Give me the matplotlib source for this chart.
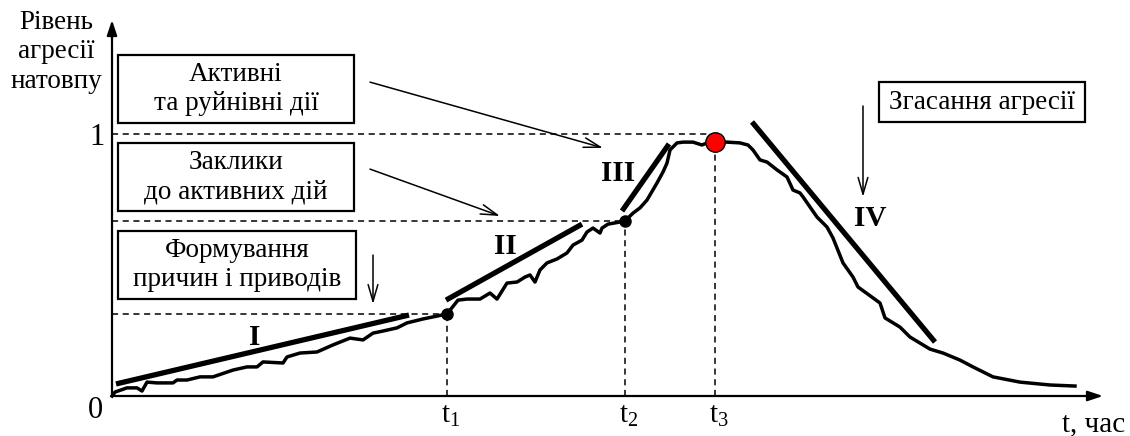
import matplotlib
matplotlib.use("Agg")
import matplotlib.pyplot as plt
from matplotlib.patches import Rectangle

plt.rcParams['font.family'] = ['Liberation Serif', 'DejaVu Serif']
plt.rcParams['mathtext.fontset'] = 'custom'
plt.rcParams['mathtext.rm'] = 'Liberation Serif'
plt.rcParams['mathtext.it'] = 'Liberation Serif:italic'

# aggression curve (time units, level 0..1)
curve_t = [0, 3, 15, 25, 30, 35, 45, 61, 65, 75, 88, 101, 121, 135, 145, 151, 171, 175,
           188, 205, 221, 238, 251, 261, 271, 285, 295, 311, 335, 346, 355, 368, 378, 385,
           395, 405, 413, 418, 423, 428, 435, 445, 455, 461, 470, 475, 481, 488, 490, 496,
           508, 513, 521, 528, 535, 545, 551, 555, 558, 565, 571, 581, 590, 595, 603, 615,
           628, 636, 641, 648, 655, 665, 675, 681, 688, 691, 705, 715, 721, 731, 741, 746,
           768, 773, 788, 798, 808, 818, 831, 848, 861, 881, 908, 938, 963]
curve_y = [0.0, 0.015, 0.031, 0.031, 0.019, 0.053, 0.050, 0.050, 0.061, 0.061, 0.073, 0.073,
           0.099, 0.111, 0.111, 0.130, 0.126, 0.149, 0.164, 0.168, 0.195, 0.221, 0.214, 0.240,
           0.248, 0.260, 0.279, 0.294, 0.313, 0.366, 0.370, 0.370, 0.393, 0.370, 0.431, 0.435,
           0.454, 0.462, 0.435, 0.481, 0.508, 0.523, 0.546, 0.576, 0.595, 0.626, 0.641, 0.622,
           0.641, 0.656, 0.664, 0.668, 0.698, 0.718, 0.748, 0.813, 0.855, 0.889, 0.939, 0.966,
           0.969, 0.969, 0.958, 0.966, 0.969, 0.969, 0.966, 0.958, 0.939, 0.901, 0.893, 0.863,
           0.836, 0.786, 0.775, 0.760, 0.683, 0.645, 0.603, 0.508, 0.454, 0.416, 0.355, 0.298,
           0.263, 0.225, 0.202, 0.179, 0.164, 0.137, 0.111, 0.073, 0.053, 0.042, 0.038]

# key moments
t_marks = [335, 513, 603]
t_levels = [0.313, 0.668, 0.969]
t_labels = [r'$\mathrm{t}_1$', r'$\mathrm{t}_2$', r'$\mathrm{t}_3$']
dash_levels = [0.313, 0.668, 1.0]

# trend segments I-IV: (t0, y0, t1, y1)
trends = [(4, 0.046, 297, 0.309),
          (334, 0.366, 470, 0.656),
          (510, 0.706, 557, 0.962),
          (640, 1.046, 823, 0.206)]
trend_names = ['I', 'II', 'III', 'IV']
trend_label_pos = [(143, 0.225), (393, 0.569), (506, 0.851), (758, 0.679)]

# stage boxes: (t0, t1, y0, y1, text)
boxes = [(6, 242, 1.042, 1.302, 'Активні\nта руйнівні дії'),
         (6, 242, 0.706, 0.966, 'Заклики\nдо активних дій'),
         (6, 244, 0.370, 0.630, 'Формування\nпричин і приводів'),
         (767, 973, 1.046, 1.198, 'Згасання агресії')]
# pointer arrows: (from_t, from_y, to_t, to_y)
pointers = [(258, 1.198, 491, 0.947),
            (258, 0.866, 388, 0.687),
            (261, 0.538, 261, 0.351),
            (751, 1.107, 751, 0.760)]

fig = plt.figure(figsize=(11.3, 4.36), dpi=100)
ax = fig.add_axes([0, 0, 1, 1])
ax.set_xlim(-112, 1018)
ax.set_ylim(-40 / 262, 396 / 262)
ax.axis('off')

# axes with arrows
for tip in [(0, 1.435), (991, 0)]:
    ax.annotate('', xy=tip, xytext=(0, 0),
                arrowprops=dict(arrowstyle='-|>,head_length=0.9,head_width=0.3', color='black',
                                lw=1.6, shrinkA=0, shrinkB=0))

# dashed guides
for lev, tm in zip(dash_levels, t_marks):
    ax.plot([0, tm], [lev, lev], ls=(0, (4, 3)), color='black', lw=1.1)
for tm, lev in zip(t_marks, t_levels):
    ax.plot([tm, tm], [0, lev], ls=(0, (4, 3)), color='black', lw=1.1)

ax.plot(curve_t, curve_y, color='black', lw=2.5, solid_joinstyle='round')

for (a, b, c, d), name, (lx, ly) in zip(trends, trend_names, trend_label_pos):
    ax.plot([a, c], [b, d], color='black', lw=3.8, solid_capstyle='butt')
    ax.text(lx, ly, name, fontsize=21, fontweight='bold', ha='center', va='center')

ax.plot(t_marks[:2], t_levels[:2], 'o', color='black', ms=8)
ax.plot(t_marks[2], t_levels[2], 'o', color='red', mec='black', mew=1, ms=14)

for x0, x1, y0, y1, txt in boxes:
    ax.add_patch(Rectangle((x0, y0), x1 - x0, y1 - y0, fill=False, ec='black', lw=1.6))
    ax.text((x0 + x1) / 2, (y0 + y1) / 2, txt, fontsize=19.5, ha='center', va='center',
            linespacing=1.25)

for a, b, c, d in pointers:
    ax.annotate('', xy=(c, d), xytext=(a, b),
                arrowprops=dict(arrowstyle='->,head_length=1.2,head_width=0.35', color='black',
                                lw=1.1, shrinkA=0, shrinkB=0))

# tick labels
ax.text(-17, -0.055, '0', fontsize=22, ha='center', va='center')
ax.text(-15, 0.985, '1', fontsize=22, ha='center', va='center')
for tm, lab in zip(t_marks, t_labels):
    ax.text(tm + 4, -0.075, lab, fontsize=21, ha='center', va='center')
ax.text(982, -0.11, 't, час', fontsize=21, ha='center', va='center')
ax.text(-56, 1.313, 'Рівень\nагресії\nнатовпу', fontsize=19.5, ha='center', va='center',
        linespacing=1.25)

fig.savefig('out.png', dpi=100)
